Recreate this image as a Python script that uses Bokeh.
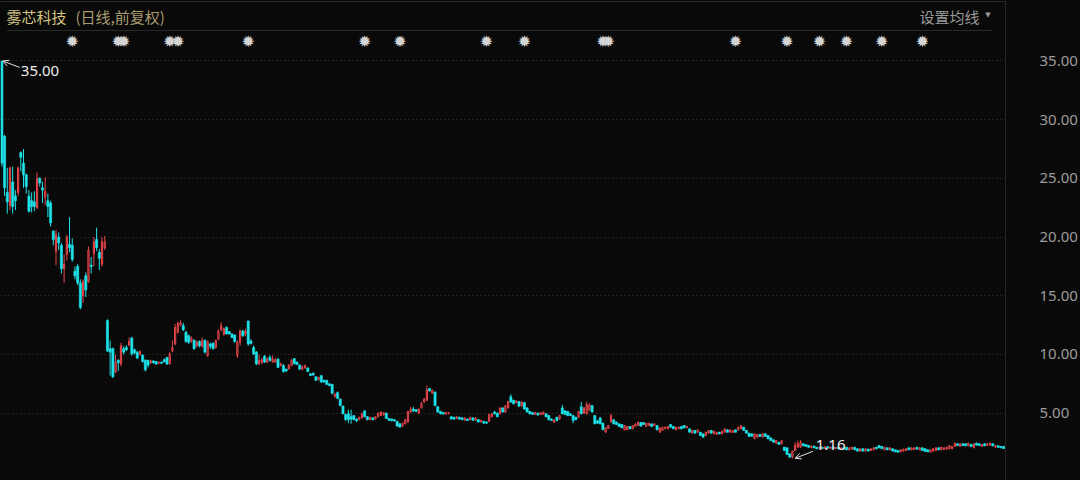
import numpy as np
from bokeh.plotting import figure
from bokeh.models import Range1d, FixedTicker, PrintfTickFormatter, ColumnDataSource, Arrow, OpenHead, GlobalInlineStyleSheet
from bokeh.core.properties import value
from bokeh.embed import file_html
from bokeh.resources import INLINE

# ---------------- data (daily candles, forward adjusted) ----------------
open_ = [
    # first weeks
    35.0, 28.6, 23.8, 22.7, 24.7, 23.5, 23.8, 27.2, 26.3, 25.3, 23.5, 23.1, 23.0, 22.5, 25.0, 24.2, 23.4, 23.1, 22.9, 20.5,
    18.8, 20.0, 19.3, 17.3, 18.5, 19.4, 19.3, 17.1, 17.5, 16.1, 15.0, 16.7, 16.2, 17.6, 18.6, 19.8, 18.7, 17.7, 19.1,
    # after the gap down
    12.9, 10.5, 10.5, 8.5, 9.5, 9.2, 10.5, 10.6, 10.8, 11.4, 10.4, 10.2, 10.0, 9.95, 9.5, 9.5, 9.3, 9.45, 9.4, 9.3, 9.35,
    9.55, 9.75, 9.2, 10.27, 10.9, 11.9, 12.5, 12.45, 11.9, 11.6, 11.1, 11.2, 10.75, 11.1, 10.7, 11.2, 9.9, 10.9, 10.95, 10.6,
    11.3, 12.1, 11.7, 12.3, 11.95, 11.75, 11.65, 9.9, 11.05, 12.0, 11.75, 12.85, 11.15, 10.6, 10.2, 9.2, 9.3, 9.85, 9.35, 9.75,
    9.35, 9.35, 9.6, 9.05, 9.05, 8.75, 8.78, 9.05, 9.65, 9.35, 9.1, 8.73, 8.85, 8.85, 8.35, 8.4, 8.1, 7.85, 8.2, 7.8,
    7.8, 7.5, 7.45, 6.45, 6.75,
    # middle
    6.2, 5.6, 4.9, 4.95, 4.7, 4.8, 4.5, 4.45, 4.6, 5.2, 4.7, 4.45, 4.6, 4.5, 4.7, 4.8, 4.85, 5.0, 4.55, 4.5,
    4.45, 4.3, 4.1, 3.9, 4.1, 4.25, 5.1, 5.35, 5.3, 5.0, 5.45, 5.95, 6.1, 7.1, 6.7, 6.8, 5.55, 5.15, 5.05, 4.92,
    4.95, 4.7, 4.65, 4.52, 4.65, 4.6, 4.4, 4.5, 4.45, 4.6, 4.4, 4.45, 4.25, 4.3, 4.25, 4.3, 4.7, 5.1, 5.0, 4.95,
    5.45, 5.1, 5.45, 6.4, 6.1, 5.9, 6.0, 5.6, 5.9, 5.45, 5.15, 5.05, 4.9, 5.0, 4.88, 4.9, 4.95, 4.8, 4.5, 4.22,
    4.65, 4.5, 5.45, 5.2, 5.15, 4.95, 4.8, 4.65, 4.65, 5.55, 5.0, 4.95, 5.25, 5.65, 4.8, 4.35, 4.6, 4.15, 3.4, 3.7, 4.25,
    # late
    4.43, 4.24, 4.09, 4.04, 3.58, 3.6, 3.87, 3.67, 3.87, 3.95, 4.2, 4.2, 3.87, 3.95, 4.09, 3.95, 3.95, 3.38, 3.53, 3.67,
    3.67, 4.04, 3.87, 3.58, 3.67, 3.87, 3.95, 3.75, 3.67, 3.3, 3.53, 3.38, 3.38, 3.24, 3.1, 3.3, 3.53, 3.24, 3.19, 3.38,
    3.24, 3.38, 3.58, 3.38, 3.36, 3.58, 3.58, 3.67, 3.81, 3.53, 3.3, 3.24, 2.82, 2.96, 3.19, 2.96, 3.24, 3.1, 2.9, 2.73,
    2.45, 2.53, 2.39, 2.1, 2.05, 1.54, 1.26, 1.82, 2.1, 2.1, 2.39, 2.34, 2.25, 2.05, 2.2, 2.1, 1.97, 2.1, 2.0, 2.15,
    2.0, 2.12, 1.98, 2.1, 1.95, 2.05, 2.1, 1.88, 1.94, 2.1, 1.97, 1.77, 1.97, 1.77, 1.94, 1.82, 1.88, 2.1, 2.25, 2.17,
    1.88, 2.05, 1.88, 1.97, 1.88, 1.82, 1.71, 1.77, 1.82, 2.05, 1.88, 1.9, 2.1, 1.88, 2.05, 1.97, 1.88, 1.68, 1.77, 1.82,
    2.05, 1.88, 1.9, 1.94, 1.97, 1.97, 2.17, 2.39, 2.17, 2.39, 2.39, 2.22, 2.34, 2.05, 2.45, 2.39, 2.17, 2.39, 2.25, 2.28,
    2.39, 2.1, 2.22, 2.17, 2.17,
]
high = [
    35.0, 28.7, 25.9, 26.0, 26.0, 24.0, 26.0, 27.3, 27.5, 25.4, 24.0, 23.8, 23.9, 25.5, 25.1, 24.7, 25.1, 23.7, 23.1, 20.6,
    20.6, 20.4, 19.5, 18.5, 20.2, 21.7, 19.9, 17.5, 17.7, 16.4, 16.4, 17.0, 19.2, 18.3, 20.0, 20.8, 19.0, 20.0, 20.1,
    13.0, 11.2, 10.6, 10.0, 9.6, 11.0, 10.7, 10.8, 11.45, 11.5, 10.5, 10.3, 10.35, 10.0, 9.6, 9.55, 9.55, 9.5, 9.45, 9.4, 9.4,
    9.65, 9.8, 10.2, 11.2, 12.6, 12.8, 12.9, 12.7, 12.0, 11.7, 11.55, 11.3, 11.2, 11.2, 11.45, 11.3, 11.2, 11.0, 11.05, 11.25,
    12.15, 12.75, 12.3, 12.4, 12.0, 11.8, 11.7, 11.2, 12.15, 12.1, 12.2, 12.9, 11.3, 10.75, 10.3, 10.0, 9.7, 9.95, 9.75, 9.95,
    9.9, 9.7, 9.7, 9.3, 9.2, 8.8, 9.2, 9.6, 9.7, 9.4, 9.15, 9.1, 9.15, 8.9, 8.4, 8.45, 8.15, 8.1, 8.25, 7.85,
    7.85, 7.55, 7.5, 6.75, 6.85,
    6.25, 5.65, 4.95, 5.3, 5.3, 4.85, 4.55, 4.7, 5.05, 5.25, 4.75, 4.7, 4.65, 4.75, 5.05, 5.15, 5.1, 5.05, 4.6, 4.55,
    4.5, 4.35, 4.15, 4.2, 4.5, 5.2, 5.55, 5.55, 5.35, 5.4, 5.95, 6.3, 7.35, 7.15, 7.0, 6.85, 5.6, 5.2, 5.1, 5.1,
    5.1, 4.75, 4.7, 4.75, 4.7, 4.65, 4.65, 4.55, 4.7, 4.65, 4.65, 4.5, 4.45, 4.35, 4.3, 4.95, 5.0, 5.2, 5.05, 5.5,
    5.5, 5.7, 6.05, 6.6, 6.15, 6.1, 6.05, 6.0, 5.95, 5.5, 5.2, 5.1, 5.1, 5.05, 5.1, 5.15, 5.0, 4.85, 4.55, 4.45,
    4.7, 4.85, 5.7, 5.25, 5.2, 5.0, 4.85, 4.7, 5.2, 5.95, 5.5, 5.95, 5.85, 5.7, 4.85, 4.4, 4.65, 4.2, 3.8, 4.0, 4.95,
    4.5, 4.28, 4.12, 4.08, 3.98, 3.9, 3.9, 3.98, 4.12, 4.28, 4.24, 4.24, 4.18, 4.18, 4.12, 4.12, 3.98, 3.78, 3.84, 3.84,
    3.9, 4.07, 3.9, 3.84, 3.84, 3.9, 3.98, 3.9, 3.7, 3.56, 3.56, 3.61, 3.41, 3.27, 3.41, 3.56, 3.56, 3.5, 3.41, 3.41,
    3.5, 3.7, 3.61, 3.61, 3.56, 3.61, 3.84, 3.98, 3.84, 3.56, 3.33, 3.27, 3.27, 3.22, 3.22, 3.27, 3.27, 3.13, 2.93, 2.76,
    2.7, 2.56, 2.7, 2.13, 2.08, 1.57, 1.8, 2.55, 2.67, 2.7, 2.42, 2.37, 2.28, 2.23, 2.23, 2.13, 2.13, 2.13, 2.18, 2.18,
    2.15, 2.15, 2.11, 2.13, 2.08, 2.08, 2.13, 2.08, 2.13, 2.13, 2.0, 2.0, 2.0, 2.0, 1.97, 2.0, 2.08, 2.13, 2.28, 2.2,
    2.13, 2.08, 2.08, 2.0, 1.91, 1.85, 1.91, 1.97, 2.0, 2.08, 2.08, 2.08, 2.13, 2.08, 2.08, 2.0, 1.91, 1.91, 2.0, 2.08,
    2.08, 2.13, 2.08, 2.13, 2.28, 2.2, 2.48, 2.42, 2.42, 2.42, 2.42, 2.48, 2.37, 2.42, 2.48, 2.42, 2.37, 2.42, 2.42, 2.48,
    2.42, 2.28, 2.25, 2.2, 2.2,
]
low = [
    26.0, 23.5, 22.0, 22.3, 22.0, 22.3, 23.5, 25.6, 24.2, 23.7, 22.1, 22.1, 22.2, 22.4, 24.3, 22.9, 22.7, 21.7, 20.9, 19.3,
    17.6, 18.9, 16.9, 16.1, 18.0, 18.7, 17.9, 16.4, 15.9, 13.85, 14.4, 14.9, 16.1, 16.9, 17.5, 18.8, 17.2, 17.5, 18.9,
    10.2, 8.2, 8.0, 8.4, 8.6, 9.0, 10.0, 10.3, 10.7, 9.9, 10.0, 9.6, 9.9, 9.3, 8.55, 8.9, 9.2, 9.2, 9.1, 9.15, 9.2,
    9.3, 9.1, 9.15, 10.2, 10.8, 11.8, 12.4, 12.0, 11.0, 10.9, 11.0, 10.4, 10.6, 10.6, 10.6, 10.1, 9.8, 10.5, 10.4, 10.5,
    11.2, 12.0, 11.6, 11.7, 11.7, 11.4, 11.0, 9.7, 10.75, 11.5, 11.55, 10.75, 10.85, 9.95, 9.1, 9.1, 9.2, 9.3, 9.3, 9.4,
    9.3, 9.3, 8.85, 9.0, 8.45, 8.5, 8.7, 9.0, 9.15, 9.1, 8.7, 8.65, 8.8, 8.5, 8.15, 8.2, 7.75, 7.8, 7.6, 7.6,
    7.4, 7.3, 6.6, 6.3, 6.2,
    5.6, 4.9, 4.35, 4.15, 4.1, 4.4, 4.25, 4.4, 4.55, 4.65, 4.4, 4.4, 4.4, 4.45, 4.65, 4.75, 4.8, 4.5, 4.35, 4.3,
    4.3, 3.85, 3.75, 3.85, 4.05, 4.2, 5.0, 5.1, 5.1, 4.95, 5.4, 5.9, 6.05, 6.85, 6.65, 5.6, 5.05, 4.9, 4.9, 4.9,
    4.9, 4.45, 4.45, 4.5, 4.45, 4.4, 4.35, 4.35, 4.4, 4.35, 4.35, 4.2, 4.2, 4.1, 4.1, 4.25, 4.65, 4.9, 4.65, 4.9,
    5.05, 5.05, 5.4, 5.9, 5.75, 5.85, 5.55, 5.55, 5.3, 5.05, 4.9, 4.85, 4.85, 4.8, 4.85, 4.85, 4.65, 4.4, 4.35, 4.2,
    4.3, 4.45, 4.9, 4.85, 4.75, 4.75, 4.15, 4.4, 4.6, 4.9, 4.95, 4.9, 5.2, 5.05, 4.05, 4.1, 4.05, 3.55, 3.3, 3.65, 4.2,
    4.05, 4.0, 3.84, 3.72, 3.55, 3.57, 3.64, 3.64, 3.84, 3.92, 3.86, 4.0, 3.84, 3.92, 3.84, 3.92, 3.55, 3.35, 3.5, 3.64,
    3.64, 3.78, 3.64, 3.55, 3.64, 3.64, 3.72, 3.72, 3.35, 3.27, 3.27, 3.35, 3.07, 2.93, 3.07, 3.27, 3.27, 3.21, 3.16, 3.21,
    3.21, 3.35, 3.35, 3.35, 3.33, 3.35, 3.55, 3.64, 3.5, 3.27, 2.99, 3.01, 2.79, 2.93, 2.99, 2.93, 2.99, 2.79, 2.64, 2.5,
    2.42, 2.31, 2.36, 1.79, 1.45, 1.2, 1.16, 1.79, 2.07, 2.07, 2.19, 2.14, 2.07, 2.02, 2.02, 1.94, 1.94, 1.97, 1.97, 1.99,
    1.97, 1.95, 1.95, 1.92, 1.92, 1.91, 1.85, 1.85, 1.91, 1.85, 1.74, 1.74, 1.74, 1.74, 1.74, 1.79, 1.85, 1.94, 2.02, 1.94,
    1.85, 1.85, 1.85, 1.74, 1.68, 1.65, 1.68, 1.74, 1.79, 1.85, 1.85, 1.87, 1.91, 1.85, 1.79, 1.71, 1.68, 1.65, 1.74, 1.79,
    1.85, 1.85, 1.87, 1.91, 1.94, 1.94, 2.14, 2.22, 2.14, 2.22, 2.19, 2.19, 2.14, 2.02, 2.25, 2.22, 2.14, 2.19, 2.22, 2.25,
    2.19, 2.07, 2.07, 2.02, 1.96,
]
close = [
    26.3, 24.2, 23.0, 25.9, 22.6, 23.1, 25.9, 26.8, 25.3, 24.3, 22.2, 22.6, 22.6, 25.0, 24.6, 24.0, 23.9, 22.6, 21.2, 19.8,
    20.2, 19.5, 17.3, 17.7, 20.0, 19.1, 18.1, 16.7, 16.1, 14.0, 16.2, 15.5, 18.9, 17.5, 19.6, 19.1, 18.2, 19.6, 19.6,
    10.3, 10.2, 8.1, 9.35, 9.3, 10.75, 10.2, 10.4, 11.1, 10.05, 10.15, 9.7, 10.25, 9.4, 8.7, 9.1, 9.45, 9.3, 9.2, 9.35, 9.25,
    9.4, 9.2, 10.05, 10.6, 12.3, 12.65, 12.7, 12.1, 11.1, 11.05, 11.4, 10.5, 11.05, 10.75, 11.2, 10.2, 11.1, 10.7, 10.5, 11.2,
    12.0, 12.45, 12.2, 11.75, 11.75, 11.45, 11.1, 11.05, 12.0, 11.6, 12.0, 10.9, 10.95, 10.05, 9.2, 9.5, 9.55, 9.35, 9.6, 9.5,
    9.6, 9.55, 8.9, 9.2, 8.55, 8.6, 9.05, 9.5, 9.2, 9.15, 8.75, 8.92, 9.05, 8.55, 8.22, 8.25, 7.8, 8.05, 7.65, 7.65,
    7.45, 7.35, 6.7, 6.6, 6.25,
    5.65, 4.95, 4.45, 4.45, 4.5, 4.45, 4.35, 4.65, 4.95, 4.7, 4.45, 4.65, 4.45, 4.7, 5.0, 5.1, 5.05, 4.55, 4.4, 4.35,
    4.33, 3.9, 3.82, 4.15, 4.45, 5.15, 5.35, 5.2, 5.15, 5.35, 5.85, 6.2, 7.0, 6.9, 6.95, 5.65, 5.1, 4.95, 4.92, 5.05,
    5.05, 4.5, 4.5, 4.7, 4.5, 4.45, 4.6, 4.38, 4.65, 4.4, 4.6, 4.25, 4.38, 4.15, 4.15, 4.9, 4.95, 4.95, 4.7, 5.45,
    5.1, 5.65, 6.0, 5.95, 5.8, 6.05, 5.6, 5.95, 5.35, 5.1, 4.95, 4.9, 5.05, 4.85, 5.05, 5.08, 4.7, 4.45, 4.38, 4.42,
    4.38, 4.8, 4.95, 4.9, 4.8, 4.8, 4.38, 4.45, 5.15, 4.95, 5.45, 5.75, 5.7, 5.1, 4.1, 4.15, 4.1, 3.6, 3.75, 3.95, 4.8,
    4.09, 4.04, 3.87, 3.75, 3.95, 3.87, 3.67, 3.95, 4.09, 4.24, 3.9, 4.04, 4.15, 4.15, 3.87, 4.09, 3.58, 3.75, 3.81, 3.81,
    3.87, 3.81, 3.67, 3.81, 3.81, 3.67, 3.75, 3.87, 3.38, 3.53, 3.3, 3.58, 3.1, 2.96, 3.38, 3.53, 3.3, 3.47, 3.38, 3.24,
    3.47, 3.67, 3.38, 3.58, 3.53, 3.38, 3.81, 3.95, 3.53, 3.3, 3.02, 3.04, 3.24, 3.19, 3.02, 3.24, 3.02, 2.82, 2.67, 2.53,
    2.67, 2.34, 2.67, 1.82, 1.48, 1.26, 1.77, 2.25, 2.39, 2.53, 2.22, 2.17, 2.1, 2.2, 2.05, 1.97, 2.1, 2.0, 2.15, 2.02,
    2.12, 1.98, 2.08, 1.95, 2.05, 1.94, 1.88, 2.05, 2.1, 1.88, 1.77, 1.97, 1.77, 1.97, 1.77, 1.97, 2.05, 1.97, 2.05, 1.97,
    2.1, 1.88, 2.05, 1.77, 1.71, 1.68, 1.88, 1.94, 1.97, 1.88, 2.05, 2.05, 1.94, 2.05, 1.82, 1.74, 1.71, 1.88, 1.97, 2.05,
    1.88, 2.1, 2.05, 2.1, 2.25, 2.17, 2.45, 2.25, 2.39, 2.25, 2.22, 2.45, 2.17, 2.39, 2.28, 2.25, 2.34, 2.22, 2.39, 2.45,
    2.22, 2.25, 2.1, 2.05, 1.99,
]
y_ticks = [5, 10, 15, 20, 25, 30, 35]
star_days = [26, 43, 45, 62, 65, 91, 134, 147, 179, 193, 222, 224, 271, 290, 302, 312, 325, 340]
stock_name = "雾芯科技"
chart_note = "(日线,前复权)"
ma_button = "设置均线"

# ---------------- figure ----------------
o = np.array(open_, dtype=float)
h = np.array(high, dtype=float)
l = np.array(low, dtype=float)
c = np.array(close, dtype=float)
N = len(c)
xs = np.arange(N)
up = c > o

BG = "#090909"
RED = "#e8474c"
RED_FILL = "#4a1518"
CYAN = "#1ee3ea"
LINE = "#2b2b2b"

W, H = 1080, 480
RIGHT = 74
x0, x1 = -0.5, N - 0.3
p = figure(width=W, height=H, output_backend="svg", toolbar_location=None, title=None,
           x_range=Range1d(x0, x1), y_range=Range1d(-0.733, 40.153),
           x_axis_location=None, y_axis_location="right",
           min_border_left=0, min_border_top=0, min_border_bottom=0, min_border_right=RIGHT,
           background_fill_color=BG, border_fill_color=BG, outline_line_color=None)
p.stylesheets = [GlobalInlineStyleSheet(css="html, body { background: %s; overflow: hidden; }" % BG)]
ppu = (W - RIGHT) / (x1 - x0)  # pixels per candle

# axis & grid
ax = p.yaxis[0]
ax.ticker = FixedTicker(ticks=y_ticks)
ax.formatter = PrintfTickFormatter(format="%.2f")
ax.major_tick_line_color = None
ax.minor_tick_line_color = None
ax.axis_line_color = "#262626"
ax.major_label_standoff = 28
ax.major_label_text_font = "Noto Sans"
ax.major_label_text_font_size = "15px"
ax.major_label_text_color = "#9c9c9c"
p.xgrid.visible = False
p.ygrid.ticker = FixedTicker(ticks=y_ticks)
p.ygrid.grid_line_color = "#3c3c3c"
p.ygrid.grid_line_dash = "1 3"
p.ygrid.grid_line_width = 1

# candles
src_up = ColumnDataSource(dict(x=xs[up], h=h[up], l=l[up], top=c[up], bot=o[up]))
src_dn = ColumnDataSource(dict(x=xs[~up], h=h[~up], l=l[~up], top=o[~up], bot=c[~up]))
p.segment(x0="x", y0="h", x1="x", y1="l", source=src_up, line_color=RED, line_width=1)
p.segment(x0="x", y0="h", x1="x", y1="l", source=src_dn, line_color=CYAN, line_width=1)
p.vbar(x="x", width=0.45, top="top", bottom="bot", source=src_up,
       fill_color=RED_FILL, line_color=RED, line_width=1)
p.vbar(x="x", width=0.8, top="top", bottom="bot", source=src_dn,
       fill_color=CYAN, line_color=CYAN, line_width=0.6)

# header
p.segment(x0=[x0], x1=[x1], y0=[40.07], y1=[40.07], line_color=LINE, line_width=1)
p.text(x=[x0], y=[38.83], text=[stock_name], x_offset=6, text_font=value("Noto Sans CJK SC"),
       text_font_size="15px", text_color="#d4c384", text_baseline="middle", text_align="left")
p.text(x=[x0], y=[38.83], text=[chart_note], x_offset=75, text_font=value("Noto Sans CJK SC"),
       text_font_size="15px", text_color="#a99c70", text_baseline="middle", text_align="left")
p.text(x=[x1], y=[38.83], text=[ma_button], x_offset=-26, text_font=value("Noto Sans CJK SC"),
       text_font_size="15px", text_color="#9a9a9a", text_baseline="middle", text_align="right")
p.text(x=[x1], y=[38.95], text=["▼"], x_offset=-17.5, text_font=value("DejaVu Sans"),
       text_font_size="7px", text_color="#9a9a9a", text_baseline="middle", text_align="center")
p.segment(x0=[x0 + 6 / ppu], x1=[x1 - 13 / ppu], y0=[37.6], y1=[37.6], line_color=LINE, line_width=1)

# event stars
p.text(x=star_days, y=[36.63] * len(star_days), text=["✹"] * len(star_days),
       text_font=value("DejaVu Sans"), text_font_size="16px", text_color="#d4d4d4",
       text_baseline="middle", text_align="center")

# max / min annotations
i_max = int(np.argmax(h))
i_min = int(np.argmin(l))
ANN = "#e0e0e0"
p.add_layout(Arrow(end=OpenHead(size=6, line_color=ANN, line_width=1),
                   x_start=i_max + 6.6, y_start=34.45, x_end=i_max + 0.3, y_end=h[i_max],
                   line_color=ANN, line_width=1))
p.text(x=[i_max + 7.0], y=[34.19], text=["%.2f" % h[i_max]], text_font=value("Noto Sans"),
       text_font_size="15px", text_color="#ececec", text_baseline="middle", text_align="left")
p.add_layout(Arrow(end=OpenHead(size=6, line_color=ANN, line_width=1),
                   x_start=i_min + 7.6, y_start=1.75, x_end=i_min + 1.0, y_end=l[i_min],
                   line_color=ANN, line_width=1))
p.text(x=[i_min + 8.6], y=[2.25], text=["%.2f" % l[i_min]], text_font=value("Noto Sans"),
       text_font_size="15px", text_color="#ececec", text_baseline="middle", text_align="left")

open("out.html", "w").write(file_html(p, INLINE))
